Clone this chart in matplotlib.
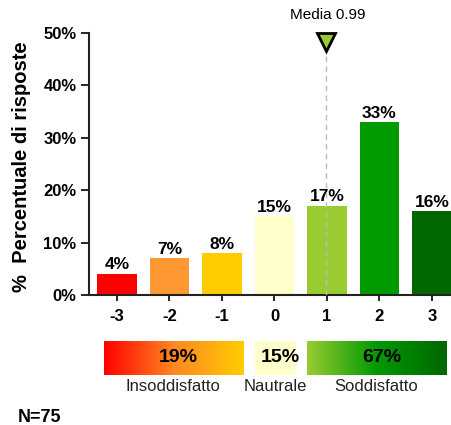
import numpy as np
import matplotlib
matplotlib.use('Agg')
import matplotlib.pyplot as plt
from matplotlib.colors import LinearSegmentedColormap

plt.rcParams['font.family'] = ['Liberation Sans', 'DejaVu Sans']

scores = [-3, -2, -1, 0, 1, 2, 3]
percents = [4, 7, 8, 15, 17, 33, 16]
bar_colors = ['#ff0000', '#ff9933', '#ffcc00', '#ffffcc', '#99cc33', '#009900', '#006600']
mean_score = 0.99
group_names = ['Insoddisfatto', 'Nautrale', 'Soddisfatto']
group_percents = [19, 15, 67]
n_resp = 75

fig = plt.figure(figsize=(4.52, 4.25), dpi=100)
ax = fig.add_axes([89 / 452, 1 - 295 / 425, (452 - 89) / 452, 262 / 425])

ax.bar(scores, percents, width=0.76, color=bar_colors, zorder=2)
for x, p in zip(scores, percents):
    ax.text(x, p + 0.3, f'{p}%', ha='center', va='bottom', fontsize=12.5, fontweight='bold')

ax.set_xlim(-3.533, 3.381)
ax.set_ylim(0, 50)
ax.set_yticks(range(0, 51, 10))
ax.set_yticklabels([f'{v}%' for v in range(0, 51, 10)], fontsize=12, fontweight='bold')
ax.set_xticks(scores)
ax.set_xticklabels([str(s) for s in scores], fontsize=12, fontweight='bold')
ax.tick_params(axis='y', length=6, width=1.2, pad=3)
ax.tick_params(axis='x', length=4, width=1.2, pad=6)
for s in ['top', 'right']:
    ax.spines[s].set_visible(False)
for s in ['left', 'bottom']:
    ax.spines[s].set_linewidth(1.5)
    ax.spines[s].set_color('#222222')

# media marker
ax.plot([mean_score, mean_score], [0, 46], ls=(0, (4, 3)), color='#bbbbbb', lw=1, zorder=3)
ax.plot(mean_score, 48.3, marker='v', markersize=13, color='#99cc33', markeredgecolor='black',
        markeredgewidth=2, clip_on=False, zorder=4)
ax.annotate(f'Media {mean_score:.2f}', (mean_score, 50), xytext=(1, 8), textcoords='offset points',
            ha='center', va='bottom', fontsize=11, annotation_clip=False)

fig.text(22 / 452, 1 - 167 / 425, '%  Percentuale di risposte', rotation=90, ha='center', va='center',
         fontsize=14.5, fontweight='bold')

# summary bands
bx = fig.add_axes([89 / 452, 1 - 375 / 425, (452 - 89) / 452, 34 / 425])
bx.axis('off')
spans = [(-3.25, -0.6), (-0.37, 0.41), (0.62, 3.27)]
cmaps = [LinearSegmentedColormap.from_list('neg', ['#ff0000', '#ff8822', '#ffcc00']),
         LinearSegmentedColormap.from_list('neu', ['#ffffcc', '#ffffcc']),
         LinearSegmentedColormap.from_list('pos', ['#99cc33', '#009900', '#006600'])]
grad = np.linspace(0, 1, 256).reshape(1, -1)
for (x0, x1), cm, name, p in zip(spans, cmaps, group_names, group_percents):
    bx.imshow(grad, cmap=cm, extent=[x0, x1, 0, 1], aspect='auto')
    bx.text((x0 + x1) / 2 + 0.1, 0.5, f'{p}%', ha='center', va='center', fontsize=14, fontweight='bold')
    bx.text((x0 + x1) / 2, -0.12, name, ha='center', va='top', fontsize=12, color='#222222')
bx.set_xlim(ax.get_xlim())
bx.set_ylim(0, 1)

fig.text(18 / 452, 1 - 418 / 425, f'N={n_resp}', ha='left', va='center', fontsize=13, fontweight='bold')

fig.savefig('out.png', dpi=100)
